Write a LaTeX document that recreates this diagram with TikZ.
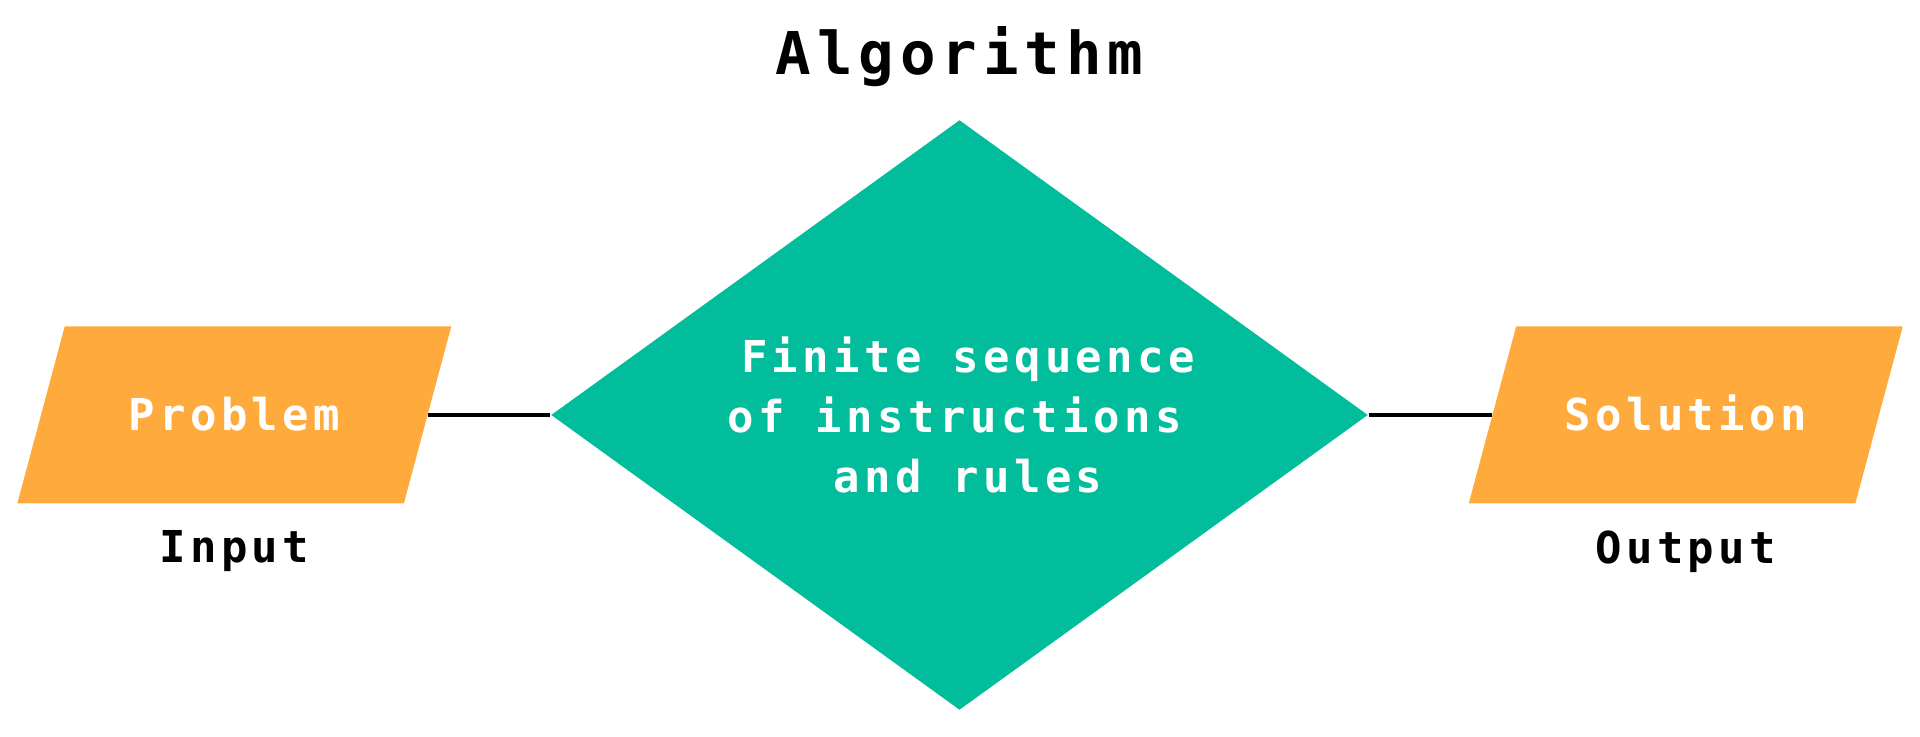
\documentclass[tikz,border=0pt]{standalone}
\usepackage{fontspec}
\usepackage{tikz}
\usetikzlibrary{positioning,shapes.geometric}
\newfontfamily\diagfont[LetterSpace=10]{DejaVu Sans Mono}
\definecolor{ioorange}{HTML}{FFAA3C}
\definecolor{algteal}{HTML}{02BD9C}

\begin{document}
\begin{tikzpicture}[
		io/.style={trapezium, trapezium left angle=75, trapezium right angle=105,
			trapezium stretches body, minimum width=4.34cm,
			text height=1.045cm, text depth=0.725cm,
			inner sep=0pt, fill=ioorange, text=white,
			font=\diagfont\fontsize{12.5pt}{15pt}\selectfont\bfseries},
		algbox/.style={diamond, aspect=1.38, minimum width=8.17cm, minimum height=5.9cm,
			inner sep=0pt, fill=algteal, text=white, align=center,
			font=\diagfont\fontsize{12.5pt}{17.2pt}\selectfont\bfseries},
		caption/.style={inner sep=0pt, font=\diagfont\fontsize{12.5pt}{15pt}\selectfont\bfseries},
		heading/.style={inner sep=0pt, font=\diagfont\fontsize{16.8pt}{20pt}\selectfont\bfseries},
		link/.style={line width=1.3pt}
	]
		%%%%% START %%%%%
		
		\useasboundingbox (0, 0) rectangle (19.2, 7.36);
		
		\node[algbox] (alg) at (9.595, 3.21) {\hspace*{0.17cm}Finite sequence\\\hspace*{0.17cm}of instructions\hphantom{s}\\\hspace*{0.17cm}and rules};
		\node[heading, above=0.32cm of alg] (ttl) {Algorithm};
		
		\node[io, left=1.22cm of alg.west, anchor=right side] (prob) {Problem};
		\node[io, right=1.23cm of alg.east, anchor=left side] (sol) {Solution};
		
		\node[caption, below=0.26cm of prob] (inp) {Input};
		\node[caption, below=0.26cm of sol] (outp) {Output};
		
		\draw[link] (prob.right side) -- (alg.west);
		\draw[link] (alg.east) -- (sol.left side);
		
		%%%%% END %%%%%
	\end{tikzpicture}
\end{document}
